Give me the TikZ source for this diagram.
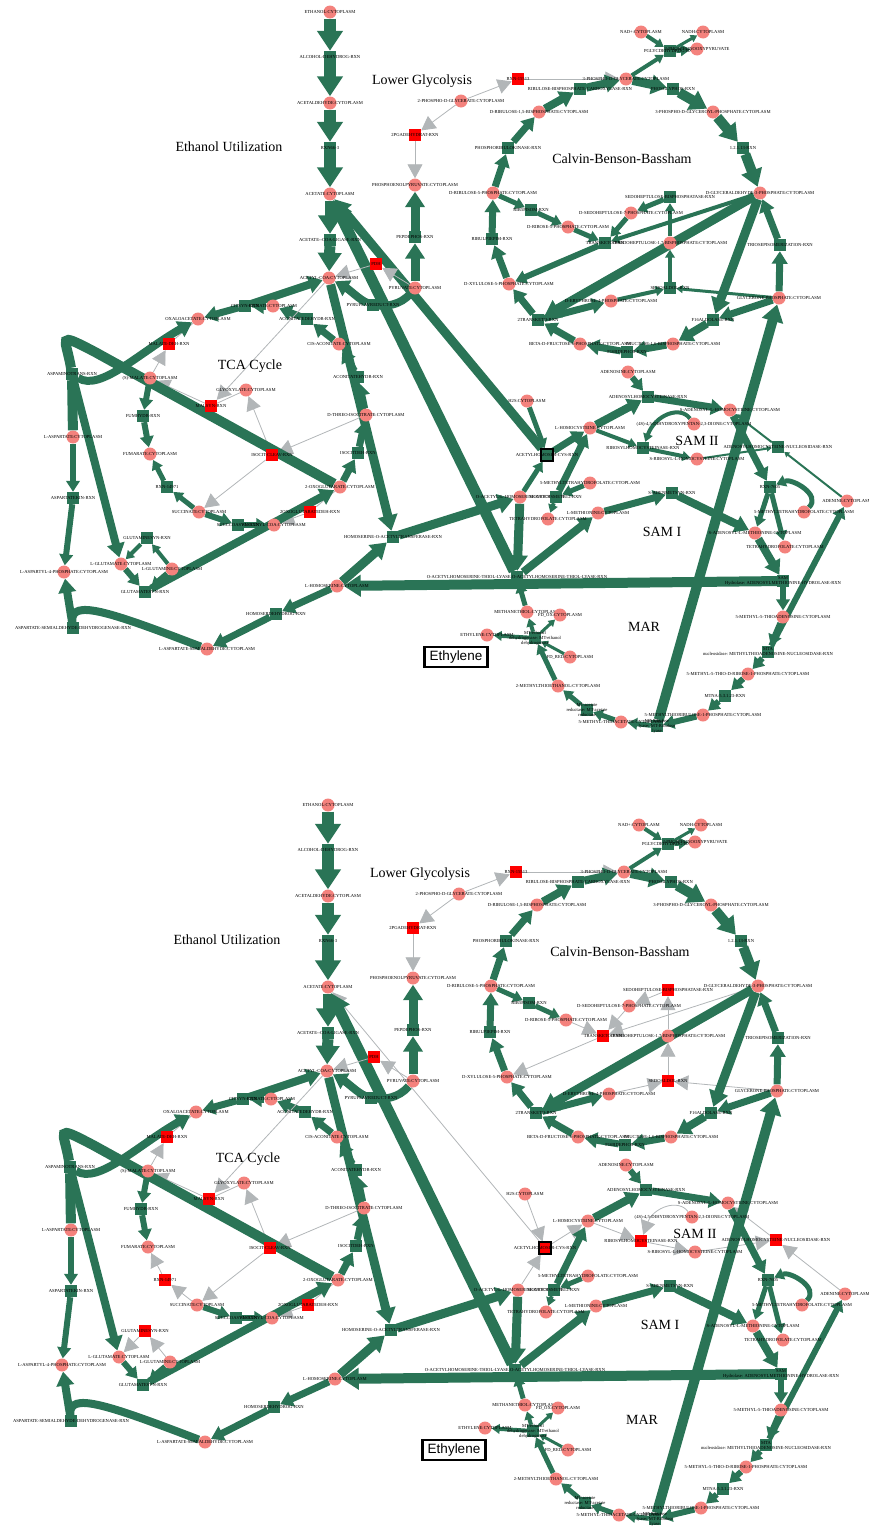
\documentclass[tikz,border=0pt]{standalone}
\usepackage{fontspec}
\setmainfont{Liberation Serif}
\newfontfamily\boxsans{Liberation Sans}
\usepackage{tikz}
\usetikzlibrary{arrows.meta, backgrounds}
\definecolor{fluxgreen}{RGB}{42,116,86}
\definecolor{metpink}{RGB}{244,130,125}
\definecolor{offgray}{RGB}{178,182,184}
\definecolor{offred}{RGB}{255,0,0}

\begin{document}
\begin{tikzpicture}[
    x=1pt, y=-1pt,
    lbl/.style={font=\fontsize{4.6}{5}\selectfont, align=center,
                inner sep=0pt, text=black},
    met/.style={circle, fill=metpink, minimum size=13pt, inner sep=0pt,
                label={[lbl]center:#1}},
    rxn/.style={rectangle, fill=fluxgreen, minimum size=12pt, inner sep=0pt,
                label={[lbl]center:#1}},
    rxnoff/.style={rectangle, fill=offred, minimum size=12pt, inner sep=0pt,
                label={[lbl]center:#1}},
    flux/.style={draw=fluxgreen, line width=#1,
                 -{Triangle[length=2pt 1.5, width=2pt 1.9]}},
    fluxn/.style={draw=fluxgreen, line width=#1},
    off/.style={draw=offgray, line width=0.8pt,
                -{Triangle[length=14pt, width=15pt]}},
    offn/.style={draw=offgray, line width=0.8pt},
    % reactions switched off in the second panel
    vrxn/.code={\ifnum\pan=2 \pgfkeysalso{rxnoff={#1}}\else\pgfkeysalso{rxn={#1}}\fi},
    vflux/.code={\ifnum\pan=2 \pgfkeysalso{off}\else\pgfkeysalso{flux=#1}\fi},
    title/.style={font=\fontsize{14}{16}\selectfont, inner sep=0pt}
  ]
  \useasboundingbox (0,0) rectangle (869,1526);

  \foreach \pan/\dx/\dy in {1/0/0, 2/-2/793}{
  \begin{scope}[shift={(\dx,\dy)}]
    % pathway titles
    \node[title] (ethanolT) at (229,147) {Ethanol Utilization};
    \node[title] (lowglyT) at (422,81) {Lower Glycolysis};
    \node[title] (cbbT) at (622,159) {Calvin-Benson-Bassham};
    \node[title] (tcaT) at (250,366) {TCA Cycle};
    \node[title] (samtwoT) at (697,441) {SAM II};
    \node[title] (samoneT) at (662,532) {SAM I};
    \node[title] (marT) at (644,627) {MAR};
    \node[draw, line width=2.8pt, font=\boxsans\fontsize{13.5}{15}\selectfont,
          minimum width=63pt, minimum height=20pt, inner sep=1pt]
          (ethbox) at (456,657) {Ethylene};

    % ethanol utilization
    \node[met=ETHANOL:CYTOPLASM] (etoh) at (330,12) {};
    \node[rxn=ALCOHOL-DEHYDROG-RXN] (adh) at (330,57) {};
    \node[met=ACETALDEHYDE:CYTOPLASM] (acald) at (330,103) {};
    \node[rxn=RXN66-3] (r663) at (330,148) {};
    \node[met=ACETATE:CYTOPLASM] (acet) at (330,194) {};
    \node[rxn=ACETATE-{}-COA-LIGASE-RXN] (acs) at (330,240) {};
    \node[met=ACETYL-COA:CYTOPLASM] (accoa) at (329,278) {};

    % lower glycolysis
    \node[met=2-PHOSPHO-D-GLYCERATE:CYTOPLASM] (pga2) at (461,101) {};
    \node[rxnoff=RXN-15513] (r15513) at (518,79) {};
    \node[rxnoff=2PGADEHYDRAT-RXN] (eno) at (415,135) {};
    \node[met=PHOSPHOENOLPYRUVATE:CYTOPLASM] (pep) at (415,185) {};
    \node[rxn=PEPDEPHOS-RXN] (pps) at (415,237) {};
    \node[met=PYRUVATE:CYTOPLASM] (pyr) at (415,288) {};
    \node[rxnoff=PDH] (pdh) at (376,264) {};
    \node[rxn=PYRUFLAVREDUCT-RXN] (pfor) at (373,305) {};

    % calvin-benson-bassham
    \node[met=3-PHOSPHO-D-GLYCERATE:CYTOPLASM] (pga3) at (626,79) {};
    \node[met=NAD+:CYTOPLASM] (nad) at (641,32) {};
    \node[met=NADH:CYTOPLASM] (nadh) at (703,32) {};
    \node[rxn=PGLYCDEHYDROG-RXN] (pgdh) at (670,51) {};
    \node[met=3-PHOSPHONOOXYPYRUVATE] (php) at (697,49) {};
    \node[rxn=RIBULOSE-BISPHOSPHATE-CARBOXYLASE-RXN] (rubisco) at (580,89) {};
    \node[rxn=PHOSGLYPHOS-RXN] (pgk) at (673,89) {};
    \node[met=3-PHOSPHO-D-GLYCEROYL-PHOSPHATE:CYTOPLASM] (bpg) at (713,112) {};
    \node[rxn=1.2.1.13-RXN] (gapdh) at (743,148) {};
    \node[met=D-GLYCERALDEHYDE-3-PHOSPHATE:CYTOPLASM] (gap) at (760,193) {};
    \node[met={D-RIBULOSE-1,5-BISPHOSPHATE:CYTOPLASM}] (rubp) at (539,112) {};
    \node[rxn=PHOSPHORIBULOKINASE-RXN] (prk) at (508,148) {};
    \node[met=D-RIBULOSE-5-PHOSPHATE:CYTOPLASM] (ru5p) at (493,193) {};
    \node[rxn=RIBULP3EPIM-RXN] (rpe) at (492,239) {};
    \node[rxn=RIB5PISOM-RXN] (rpi) at (531,210) {};
    \node[met=D-RIBOSE-5-PHOSPHATE:CYTOPLASM] (r5p) at (568,227) {};
    \node[vrxn=SEDOHEPTULOSE-BISPHOSPHATASE-RXN] (sbpase) at (670,197) {};
    \node[met=D-SEDOHEPTULOSE-7-PHOSPHATE:CYTOPLASM] (s7p) at (631,213) {};
    \node[met={D-SEDOHEPTULOSE-1,7-BISPHOSPHATE:CYTOPLASM}] (sbp) at (670,243) {};
    \node[vrxn=TRANSKETO-RXN] (tk1) at (605,243) {};
    \node[rxn=TRIOSEPISOMERIZATION-RXN] (tpi) at (780,245) {};
    \node[met=D-XYLULOSE-5-PHOSPHATE:CYTOPLASM] (x5p) at (509,284) {};
    \node[met=D-ERYTHROSE-4-PHOSPHATE:CYTOPLASM] (e4p) at (611,301) {};
    \node[vrxn=SEDOALDOL-RXN] (sald) at (670,288) {};
    \node[met=GLYCERONE-PHOSPHATE:CYTOPLASM] (dhap) at (779,298) {};
    \node[rxn=2TRANSKETO-RXN] (tk2) at (538,320) {};
    \node[rxn=F16ALDOLASE-RXN] (fba) at (713,320) {};
    \node[met=BETA-D-FRUCTOSE-6-PHOSPHATE:CYTOPLASM] (f6p) at (580,344) {};
    \node[met={FRUCTOSE-1,6-BISPHOSPHATE:CYTOPLASM}] (fbp) at (673,344) {};
    \node[rxn=F16BDEPHOS-RXN] (fbpase) at (627,352) {};

    % SAM II
    \node[met=ADENOSINE:CYTOPLASM] (adn) at (628,372) {};
    \node[rxn=ADENOSYLHOMOCYSTEINASE-RXN] (sahh) at (648,397) {};
    \node[met=S-ADENOSYL-L-HOMOCYSTEINE:CYTOPLASM] (sah) at (730,410) {};
    \node[met={(4S)-4,5-DIHYDROXYPENTAN-2,3-DIONE:CYTOPLASM}] (dpd) at (694,424) {};
    \node[met=H2S:CYTOPLASM] (h2s) at (527,401) {};
    \node[met=L-HOMOCYSTEINE:CYTOPLASM] (hcys) at (590,428) {};
    \node[vrxn=RIBOSYLHOMOCYSTEINASE-RXN] (luxs) at (643,448) {};
    \node[met=S-RIBOSYL-L-HOMOCYSTEINE:CYTOPLASM] (srh) at (697,459) {};
    \node[vrxn=ADENOSYLHOMOCYSTEINE-NUCLEOSIDASE-RXN] (mtan) at (778,447) {};
    \node[vrxn=ACETYLHOMOSER-CYS-RXN, draw=black, line width=1.2pt] (oahs) at (547,455) {};
    \node[rxn=RXN-7605] (r7605) at (770,487) {};
    \node[met=ADENINE:CYTOPLASM] (ade) at (847,501) {};
    \node[met=5-METHYLTETRAHYDROFOLATE:CYTOPLASM] (mthfb) at (804,512) {};

    % SAM I
    \node[met=O-ACETYL-L-HOMOSERINE:CYTOPLASM] (oah) at (520,497) {};
    \node[rxn=HOMOCYSMETB12-RXN] (metr) at (556,497) {};
    \node[met=5-METHYLTETRAHYDROFOLATE:CYTOPLASM] (mthfa) at (590,483) {};
    \node[met=TETRAHYDROFOLATE:CYTOPLASM] (thfa) at (548,519) {};
    \node[met=L-METHIONINE:CYTOPLASM] (met) at (598,513) {};
    \node[rxn=S-ADENMETSYN-RXN] (metk) at (672,493) {};
    \node[met=S-ADENOSYL-L-METHIONINE:CYTOPLASM] (sam) at (755,533) {};
    \node[met=TETRAHYDROFOLATE:CYTOPLASM] (thfb) at (785,547) {};
    \node[rxn={O-ACETYLHOMOSERINE-THIOL-LYASE:O-ACETYLHOMOSERINE-THIOL-LYASE-RXN}] (oahsh) at (517,577) {};
    \node[rxn={SAM\\Hydrolase: ADENOSYLMETHIONINE-HYDROLASE-RXN}] (samh) at (783,581) {};

    % MAR
    \node[met=5-METHYL-5-THIOADENOSINE:CYTOPLASM] (mta) at (783,617) {};
    \node[rxn={MTA\\nucleosidase: METHYLTHIOADENOSINE-NUCLEOSIDASE-RXN}] (mtn) at (768,652) {};
    \node[met=5-METHYL-5-THIO-D-RIBOSE-1-PHOSPHATE:CYTOPLASM] (mtr) at (748,674) {};
    \node[rxn=MTNA:5.3.1.23-RXN] (mtna) at (725,696) {};
    \node[met=5-METHYLTHIORIBULOSE-1-PHOSPHATE:CYTOPLASM] (mtru) at (703,715) {};
    \node[rxn={MT-Ribulose\\lyase: MT-Ribulose\\lyase}] (mtrl) at (657,726) {};
    \node[met=5-METHYL-THIOACETATE:CYTOPLASM] (mtac) at (621,722) {};
    \node[rxn={MT-acetate\\reductase: MT-acetate\\reductase}] (mtar) at (587,710) {};
    \node[met=2-METHYLTHIOETHANOL:CYTOPLASM] (mtet) at (558,686) {};
    \node[met=FD\_RED:CYTOPLASM] (fdred) at (570,657) {};
    \node[rxn={MT-ethanol\\dehydrogenase: MT-ethanol\\dehydrogenase}] (mted) at (535,638) {};
    \node[met=ETHYLENE:CYTOPLASM] (eth) at (487,635) {};
    \node[met=METHANETHIOL:CYTOPLASM] (mesh) at (527,612) {};
    \node[met=FD\_OX:CYTOPLASM] (fdox) at (560,615) {};

    % TCA cycle
    \node[rxn=CITSYN-RXN] (cs) at (245,306) {};
    \node[met=CITRATE:CYTOPLASM] (cit) at (273,306) {};
    \node[met=OXALOACETATE:CYTOPLASM] (oaa) at (198,319) {};
    \node[rxn=ACONITATEDEHYDR-RXN] (acnd) at (307,319) {};
    \node[met=CIS-ACONITATE:CYTOPLASM] (cisa) at (339,344) {};
    \node[rxnoff=MALATE-DEH-RXN] (mdh) at (169,344) {};
    \node[met=(S)-MALATE:CYTOPLASM] (mal) at (150,378) {};
    \node[rxn=ASPAMINOTRANS-RXN] (aat) at (72,374) {};
    \node[rxn=ACONITATEHYDR-RXN] (acnh) at (358,377) {};
    \node[met=GLYOXYLATE:CYTOPLASM] (glx) at (246,390) {};
    \node[rxnoff=MALSYN-RXN] (ms) at (211,406) {};
    \node[rxn=FUMHYDR-RXN] (fumh) at (143,416) {};
    \node[met=D-THREO-ISOCITRATE:CYTOPLASM] (icit) at (366,415) {};
    \node[met=L-ASPARTATE:CYTOPLASM] (asp) at (73,437) {};
    \node[met=FUMARATE:CYTOPLASM] (fum) at (150,454) {};
    \node[rxnoff=ISOCIT-CLEAV-RXN] (icl) at (272,455) {};
    \node[rxn=ISOCITDEH-RXN] (icd) at (358,453) {};
    \node[vrxn=RXN-14971] (r14971) at (167,487) {};
    \node[met=2-OXOGLUTARATE:CYTOPLASM] (og) at (340,487) {};
    \node[rxn=ASPARTATEKIN-RXN] (akin) at (73,498) {};
    \node[met=SUCCINATE:CYTOPLASM] (succ) at (199,512) {};
    \node[rxn=SUCCCOASYN-RXN] (sucd) at (238,525) {};
    \node[met=SUCCINYL-COA:CYTOPLASM] (succoa) at (274,525) {};
    \node[rxnoff=2OXOGLUTARATEDEH-RXN] (ogdh) at (310,512) {};

    % aspartate family
    \node[vrxn=GLUTAMINESYN-RXN] (glns) at (147,538) {};
    \node[met=L-GLUTAMATE:CYTOPLASM] (glu) at (121,564) {};
    \node[met=L-GLUTAMINE:CYTOPLASM] (gln) at (172,569) {};
    \node[met=L-ASPARTYL-4-PHOSPHATE:CYTOPLASM] (aspp) at (64,572) {};
    \node[rxn=GLUTAMATESYN-RXN] (gogat) at (145,592) {};
    \node[rxn=HOMOSERINE-O-ACETYLTRANSFERASE-RXN] (hsat) at (393,537) {};
    \node[met=L-HOMOSERINE:CYTOPLASM] (hser) at (337,586) {};
    \node[rxn=HOMOSERDEHYDROG-RXN] (hsdh) at (276,614) {};
    \node[rxn=ASPARTATE-SEMIALDEHYDE-DEHYDROGENASE-RXN] (asd) at (73,628) {};
    \node[met=L-ASPARTATE-SEMIALDEHYDE:CYTOPLASM] (asa) at (207,649) {};

    \begin{scope}[on background layer]
      % ethanol utilization
      \draw[flux=12] (etoh) -- (adh);
      \draw[flux=12] (adh) -- (acald);
      \draw[flux=12] (acald) -- (r663);
      \draw[flux=12] (r663) -- (acet);
      \draw[flux=11] (acet) -- (acs);
      \draw[flux=11] (acs) -- (accoa);
      \draw[vflux=9] (oahs) -- (acet);
      \draw[flux=11] (oahsh) -- (acet);
      \draw[flux=9] (accoa) -- (hsat);
      % lower glycolysis
      \draw[off] (pga2) -- (r15513);
      \draw[off] (r15513) -- (pga3);
      \draw[off] (pga2) -- (eno);
      \draw[off] (eno) -- (pep);
      \draw[flux=9] (pps) -- (pep);
      \draw[flux=9] (pyr) -- (pps);
      \draw[off] (pyr) -- (pdh);
      \draw[off] (pdh) -- (accoa);
      \draw[fluxn=8] (pyr) .. controls (400,306) and (385,306) .. (pfor);
      \draw[flux=8] (pfor) .. controls (360,300) and (350,290) .. (accoa);
      % calvin-benson-bassham
      \draw[flux=8] (rubp) -- (rubisco);
      \draw[flux=8] (rubisco) -- (pga3);
      \draw[flux=9] (pga3) -- (pgk);
      \draw[flux=10] (pgk) -- (bpg);
      \draw[flux=10] (bpg) -- (gapdh);
      \draw[flux=10] (gapdh) -- (gap);
      \draw[flux=4] (pga3) -- (pgdh);
      \draw[flux=4] (nad) -- (pgdh);
      \draw[flux=3] (pgdh) -- (nadh);
      \draw[flux=5] (pgdh) -- (php);
      \draw[flux=7] (prk) -- (rubp);
      \draw[flux=7] (ru5p) -- (prk);
      \draw[flux=7] (rpe) -- (ru5p);
      \draw[flux=7] (x5p) -- (rpe);
      \draw[flux=5] (ru5p) -- (rpi);
      \draw[flux=5] (rpi) -- (r5p);
      \draw[vflux=5] (r5p) -- (tk1);
      \draw[vflux=5] (s7p) -- (tk1);
      \draw[vflux=4] (gap) -- (tk1);
      \draw[vflux=6] (tk1) -- (x5p);
      \draw[vflux=4] (sbp) -- (sbpase);
      \draw[vflux=5] (sbpase) -- (s7p);
      \draw[vflux=4] (sald) -- (sbp);
      \draw[vflux=4] (e4p) -- (sald);
      \draw[vflux=3] (dhap) -- (sald);
      \draw[flux=9] (gap) -- (tk2);
      \draw[flux=7] (f6p) -- (tk2);
      \draw[flux=7] (tk2) -- (x5p);
      \draw[flux=7] (tk2) -- (e4p);
      \draw[flux=9] (gap) -- (fba);
      \draw[flux=7] (dhap) -- (fba);
      \draw[flux=8] (fba) -- (fbp);
      \draw[flux=7] (fbp) -- (fbpase);
      \draw[flux=7] (fbpase) -- (f6p);
      \draw[flux=7] (dhap) -- (tpi);
      \draw[flux=7] (tpi) -- (gap);
      % SAM II
      \draw[flux=6] (adn) -- (sahh);
      \draw[flux=8] (hcys) -- (sahh);
      \draw[flux=7] (sahh) -- (sah);
      \draw[vflux=4] (hcys) -- (luxs);
      \draw[vflux=4] (dpd) .. controls (680,405) and (655,415) .. (luxs);
      \draw[vflux=4] (luxs) -- (srh);
      \draw[vflux=2] (srh) -- (mtan);
      \draw[vflux=2] (mtan) -- (sah);
      \draw[vflux=2] (ade) -- (mtan);
      \draw[flux=7] (sah) -- (r7605);
      \draw[flux=5] (r7605) -- (sam);
      \draw[flux=5] (r7605) -- (thfb);
      \draw[flux=5] (mthfb) .. controls (822,495) and (792,478) .. (r7605);
      \draw[vflux=5] (h2s) -- (oahs);
      \draw[vflux=5] (oah) -- (oahs);
      \draw[vflux=7] (oahs) -- (hcys);
      \draw[flux=7] (metr) -- (hcys);
      \draw[flux=5] (mthfa) -- (metr);
      \draw[flux=4] (metr) -- (thfa);
      % SAM I
      \draw[flux=9] (oah) -- (oahsh);
      \draw[flux=8] (oahsh) -- (met);
      \draw[flux=7] (met) -- (metk);
      \draw[flux=8] (metk) -- (sam);
      \draw[flux=8] (sam) -- (samh);
      \draw[flux=6] (samh) -- (mta);
      \draw[flux=10] (samh) -- (hser);
      % MAR
      \draw[flux=6] (mta) -- (mtn);
      \draw[flux=6] (mtn) -- (mtr);
      \draw[flux=6] (mtn) -- (ade);
      \draw[flux=6] (mtr) -- (mtna);
      \draw[flux=6] (mtna) -- (mtru);
      \draw[flux=6] (mtru) -- (mtrl);
      \draw[flux=5] (mtrl) -- (mtac);
      \draw[flux=10] (mtrl) -- (dhap);
      \draw[flux=5] (mtac) -- (mtar);
      \draw[flux=5] (mtar) -- (mtet);
      \draw[flux=5] (mtet) -- (mted);
      \draw[flux=3] (fdred) -- (mted);
      \draw[flux=4] (mted) -- (eth);
      \draw[flux=3] (mted) -- (fdox);
      \draw[flux=4] (mted) -- (mesh);
      \draw[flux=5] (mesh) -- (oahsh);
      % aspartate family
      \draw[flux=9] (hsat) -- (oah);
      \draw[flux=9] (hser) -- (hsat);
      \draw[flux=7] (hser) -- (hsdh);
      \draw[flux=7] (hsdh) -- (asa);
      \draw[fluxn=8] (asa) .. controls (110,612) and (70,598) .. (asd);
      \draw[flux=8] (asd) -- (aspp);
      \draw[flux=6] (akin) -- (aspp);
      \draw[flux=6] (asp) -- (akin);
      % TCA cycle
      \draw[flux=7] (og) -- (icd);
      \draw[flux=7] (icd) -- (icit);
      \draw[flux=7] (icit) -- (acnh);
      \draw[flux=7] (acnh) -- (cisa);
      \draw[flux=7] (cisa) -- (acnd);
      \draw[flux=7] (acnd) -- (cit);
      \draw[flux=7] (cit) -- (cs);
      \draw[flux=7] (cs) -- (oaa);
      \draw[flux=8] (cs) -- (accoa);
      \draw[off] (mal) -- (mdh);
      \draw[offn] (mdh) -- (oaa);
      \draw[off] (accoa) -- (ms);
      \draw[off] (ms) -- (mal);
      \draw[offn] (glx) -- (ms);
      \draw[off] (icit) -- (icl);
      \draw[off] (icl) -- (glx);
      \draw[off] (icl) -- (succ);
      \draw[offn] (og) -- (ogdh);
      \draw[off] (ogdh) -- (succoa);
      \draw[flux=6] (mal) -- (fumh);
      \draw[flux=6] (fumh) -- (fum);
      \draw[vflux=5] (succ) -- (r14971);
      \draw[vflux=5] (r14971) -- (fum);
      \draw[flux=6] (succ) -- (sucd);
      \draw[flux=6] (sucd) -- (succoa);
      \draw[fluxn=10] (og) -- (95,352) .. controls (55,331) and (66,338) .. (aat);
      \draw[flux=8] (aat) .. controls (100,392) and (140,352) .. (oaa);
      \draw[fluxn=10] (aat) -- (asp);
      \draw[flux=8] (aat) -- (glu);
      \draw[flux=8] (gogat) -- (og);
      \draw[flux=5] (gln) -- (gogat);
      \draw[flux=6] (glu) -- (gogat);
      \draw[vflux=4] (gln) -- (glns);
      \draw[vflux=4] (glns) -- (glu);
    \end{scope}
  \end{scope}
  }
\end{tikzpicture}
\end{document}
